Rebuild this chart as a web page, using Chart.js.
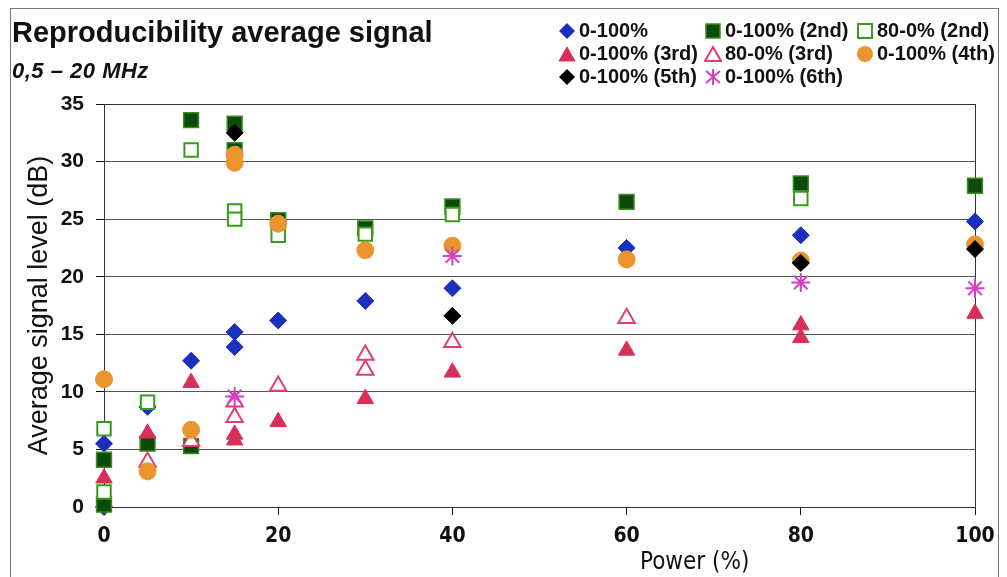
<!DOCTYPE html>
<html>
<head>
<meta charset="utf-8">
<script src="https://cdn.jsdelivr.net/npm/chart.js@4/dist/chart.umd.min.js"></script>
<style>
    body { margin: 0; background: #fff; font-family: Arial, "Liberation Sans", sans-serif; }
    .wrap { position: relative; width: 1007px; height: 577px; overflow: hidden; }
    .frame { position: absolute; left: 10px; top: 8px; width: 987px; height: 600px; border: 1px solid #777; }
    .title { position: absolute; left: 12px; top: 16px; font-size: 29px; font-weight: bold; color: #111; }
    .subtitle { position: absolute; left: 12px; top: 58px; font-size: 22px; font-weight: bold; font-style: italic; color: #111; letter-spacing: 0.5px; }
    .xtitle { position: absolute; left: 640px; top: 547px; font-size: 24px; color: #111;
              font-family: "DejaVu Sans Condensed", "Liberation Sans Narrow", Arial, sans-serif; }
    #legend { position: absolute; left: 556px; top: 18px; }
    .leg { position: absolute; white-space: nowrap; font-size: 20px; font-weight: bold; color: #111; line-height: 24px; }
    .leg svg { vertical-align: -3px; margin-right: 3px; }
    canvas { position: absolute; left: 0; top: 0; }
</style>
</head>
<body>
<div class="wrap">
    <div class="frame"></div>
    <canvas id="signalChart" width="1007" height="577"></canvas>
    <div class="title">Reproducibility average signal</div>
    <div class="subtitle">0,5 – 20 MHz</div>
    <div class="xtitle">Power (%)</div>
    <div id="legend"></div>
</div>
<script>
// --- data ---
const seriesLabels = ['0-100%', '0-100% (2nd)', '80-0% (2nd)', '0-100% (3rd)', '80-0% (3rd)', '0-100% (4th)', '0-100% (5th)', '0-100% (6th)'];

const power1 = [0, 0, 5, 10, 15, 15, 20, 30, 40, 60, 80, 100];
const level1 = [5.5, 0, 8.7, 12.7, 15.2, 13.9, 16.2, 17.9, 19.0, 22.5, 23.6, 24.8];

const power2 = [0, 0, 5, 10, 10, 15, 15, 20, 30, 40, 60, 80, 100];
const level2 = [4.1, 0.2, 5.5, 33.6, 5.3, 33.3, 31.0, 24.9, 24.2, 26.1, 26.5, 28.1, 27.9];

const power3 = [0, 0, 5, 10, 15, 15, 20, 30, 40, 80];
const level3 = [6.8, 1.3, 9.1, 31.0, 25.7, 25.0, 23.6, 23.7, 25.4, 26.8];

const power4 = [0, 5, 10, 15, 15, 20, 30, 40, 60, 80, 80, 100];
const level4 = [2.5, 6.4, 10.8, 6.3, 5.8, 7.4, 9.4, 11.7, 13.6, 15.8, 14.7, 16.8];

const power5 = [5, 10, 15, 15, 20, 30, 30, 40, 60];
const level5 = [3.9, 5.7, 9.15, 7.8, 10.5, 13.2, 11.9, 14.3, 16.4];

const power6 = [0, 5, 10, 15, 15, 20, 30, 40, 60, 80, 100];
const level6 = [11.1, 3.1, 6.7, 30.6, 29.9, 24.6, 22.3, 22.7, 21.5, 21.4, 22.8];

const power7 = [15, 40, 80, 100];
const level7 = [32.5, 16.6, 21.2, 22.4];

const power8 = [15, 40, 80, 100];
const level8 = [9.6, 21.8, 19.5, 19.0];

const xTicks = [0, 20, 40, 60, 80, 100];
const yTicks = [0, 5, 10, 15, 20, 25, 30, 35];

document.addEventListener('DOMContentLoaded', () => {

    const toPoints = (xs, ys) => xs.map((x, i) => ({ x: x, y: ys[i] }));

    // marker look of each series (Excel-like)
    const looks = [
        { shape: 'rectRot',  fill: '#1c2fbf', line: '#1c2fbf', r: 8.5, w: 1 },
        { shape: 'rect',     fill: '#0c4a0c', line: '#3a8c1c', r: 10.5, w: 1.5 },
        { shape: 'rect',     fill: '#ffffff', line: '#3a9a1c', r: 9.5, w: 2 },
        { shape: 'triangle', fill: '#d92e58', line: '#d92e58', r: 9.5, w: 1 },
        { shape: 'triangle', fill: '#ffffff', line: '#e0406c', r: 9.5, w: 2 },
        { shape: 'circle',   fill: '#eb952e', line: '#eb952e', r: 8.5, w: 1 },
        { shape: 'rectRot',  fill: '#000000', line: '#000000', r: 8.5, w: 1 },
        { shape: 'star',     fill: '#d43fc4', line: '#d43fc4', r: 9.5, w: 2 }
    ];
    const powers = [power1, power2, power3, power4, power5, power6, power7, power8];
    const levels = [level1, level2, level3, level4, level5, level6, level7, level8];

    const datasets = seriesLabels.map((label, i) => ({
        label: label,
        data: toPoints(powers[i], levels[i]),
        pointStyle: looks[i].shape,
        pointRadius: looks[i].r,
        pointHoverRadius: looks[i].r,
        pointBackgroundColor: looks[i].fill,
        pointBorderColor: looks[i].line,
        pointBorderWidth: looks[i].w,
        showLine: false,
        clip: false,
        order: seriesLabels.length - i   // later series on top, like Excel
    }));

    // thin frame round the plot area
    const plotFrame = {
        id: 'plotFrame',
        beforeDatasetsDraw(chart) {
            const a = chart.chartArea, c = chart.ctx;
            c.save();
            c.strokeStyle = '#333';
            c.lineWidth = 1;
            c.strokeRect(a.left + 0.5, a.top + 0.5, a.right - a.left, a.bottom - a.top);
            c.restore();
        }
    };

    new Chart(document.getElementById('signalChart').getContext('2d'), {
        type: 'scatter',
        data: { datasets: datasets },
        options: {
            responsive: false,
            animation: false,
            layout: { padding: { top: 104, right: 32, bottom: 0, left: 0 } },
            plugins: { legend: { display: false }, tooltip: { enabled: false } },
            scales: {
                x: {
                    type: 'linear', min: 0, max: 100,
                    afterFit: s => { s.height = 70; },
                    afterBuildTicks: s => { s.ticks = xTicks.map(v => ({ value: v })); },
                    ticks: {
                        padding: 9, color: '#111',
                        font: { family: '"DejaVu Sans Condensed", "Liberation Sans Narrow", Arial', size: 21, weight: 'bold' }
                    },
                    grid: { drawOnChartArea: false, tickLength: 8, color: '#111' },
                    border: { color: '#111' }
                },
                y: {
                    min: 0, max: 35,
                    afterFit: s => { s.width = 104; },
                    afterBuildTicks: s => { s.ticks = yTicks.map(v => ({ value: v })); },
                    ticks: { padding: 12, color: '#111', font: { family: 'Arial', size: 21, weight: 'bold' } },
                    grid: { color: '#555', tickLength: 8, tickColor: '#111' },
                    border: { color: '#111' },
                    title: {
                        display: true, text: 'Average signal level (dB)', color: '#111',
                        font: { family: 'Arial', size: 27 }, padding: { top: 23, bottom: 0 }
                    }
                }
            }
        },
        plugins: [plotFrame]
    });

    // --- legend (3 columns, like the picture) ---
    const marker = (lk) => {
        const f = lk.fill, l = lk.line;
        let body = '';
        if (lk.shape === 'rectRot') body = `<polygon points="9,1 17,9 9,17 1,9" fill="${f}"/>`;
        if (lk.shape === 'rect') body = `<rect x="2" y="2" width="14" height="14" fill="${f}" stroke="${l}" stroke-width="${lk.w}"/>`;
        if (lk.shape === 'triangle') body = `<polygon points="9,2 17,16 1,16" fill="${f}" stroke="${l}" stroke-width="${lk.w}"/>`;
        if (lk.shape === 'circle') body = `<circle cx="9" cy="9" r="8" fill="${f}"/>`;
        if (lk.shape === 'star') body = `<path d="M2,3 L16,15 M16,3 L2,15 M9,1 L9,17" stroke="${l}" stroke-width="2"/>`;
        return `<svg width="18" height="18">${body}</svg>`;
    };
    const colLeft = [2, 148, 300];
    const legend = document.getElementById('legend');
    seriesLabels.forEach((label, i) => {
        const item = document.createElement('div');
        item.className = 'leg';
        item.style.left = colLeft[i % 3] + 'px';
        item.style.top = Math.floor(i / 3) * 23 + 'px';
        item.innerHTML = marker(looks[i]) + label;
        legend.appendChild(item);
    });
});
</script>
</body>
</html>
